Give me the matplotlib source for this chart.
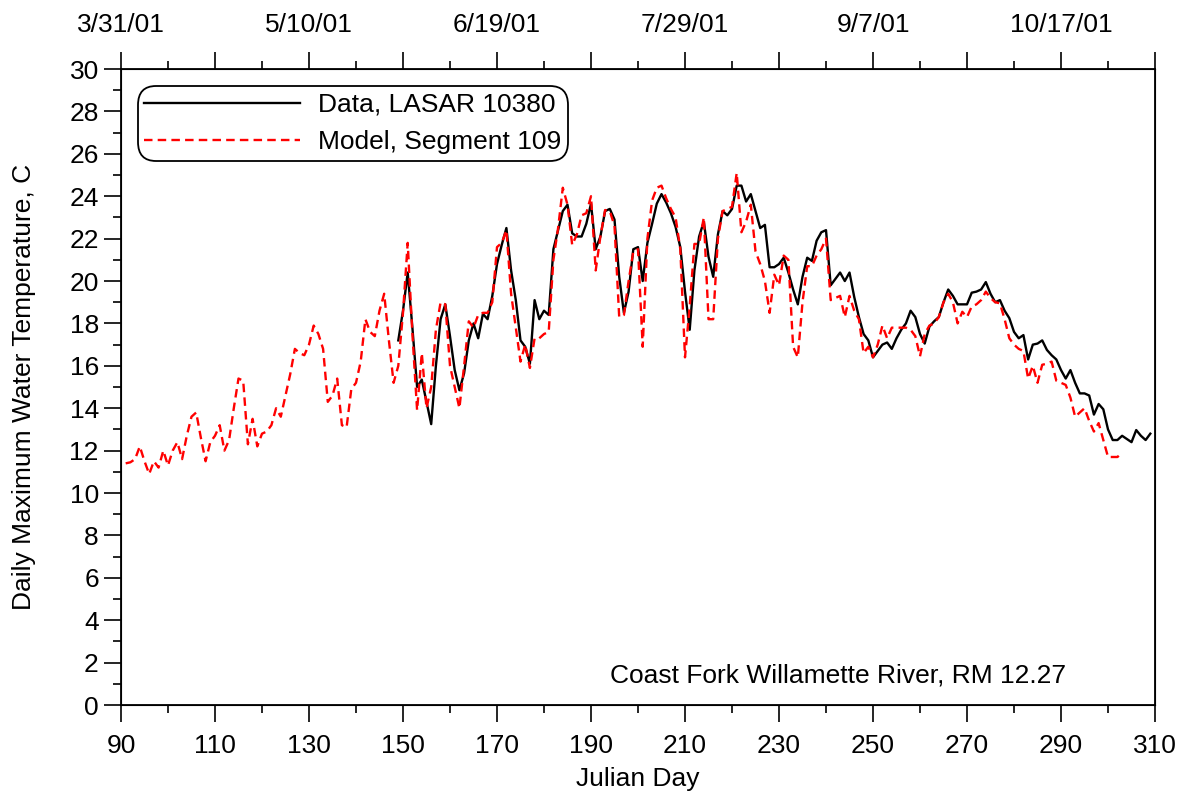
import numpy as np
import matplotlib
matplotlib.use("Agg")
import matplotlib.pyplot as plt
from matplotlib.ticker import MultipleLocator

plt.rcParams['font.family'] = ['Liberation Sans', 'DejaVu Sans']

# observed daily max temperature (LASAR 10380), days 149..309
data_days = np.arange(149, 310)
data_temp = [
    17.2, 18.6, 20.4, 17.8, 15.0, 15.35, 14.3, 13.25, 16.0, 18.2,
    18.9, 17.4, 15.8, 14.85, 15.65, 17.2, 18.0, 17.3, 18.45, 18.2,
    19.3, 20.8, 21.7, 22.5, 20.5, 19.1, 17.2, 16.9, 16.1, 19.1,
    18.2, 18.6, 18.4, 21.5, 22.4, 23.3, 23.6, 22.25, 22.1, 22.1,
    22.7, 23.65, 21.5, 22.1, 23.3, 23.4, 22.9, 20.2, 18.5, 19.5,
    21.5, 21.6, 20.0, 21.8, 22.7, 23.65, 24.1, 23.7, 23.2, 22.55,
    21.6, 19.5, 17.7, 20.5, 22.1, 22.8, 21.15, 20.2, 22.2, 23.3,
    23.1, 23.4, 24.5, 24.5, 23.75, 24.1, 23.3, 22.5, 22.65, 20.65,
    20.65, 20.8, 21.1, 20.4, 19.6, 18.9, 20.2, 21.1, 20.95, 21.9,
    22.3, 22.4, 19.8, 20.1, 20.4, 20.0, 20.4, 19.25, 18.3, 17.5,
    17.2, 16.4, 16.7, 17.0, 17.1, 16.8, 17.3, 17.7, 18.0, 18.6,
    18.3, 17.5, 17.05, 17.85, 18.1, 18.3, 19.0, 19.6, 19.3, 18.9,
    18.9, 18.9, 19.45, 19.5, 19.6, 19.95, 19.4, 19.0, 19.1, 18.6,
    18.25, 17.6, 17.3, 17.45, 16.3, 17.0, 17.05, 17.2, 16.75, 16.5,
    16.3, 15.8, 15.4, 15.8, 15.2, 14.7, 14.7, 14.6, 13.7, 14.2,
    13.95, 13.0, 12.5, 12.5, 12.7, 12.55, 12.4, 12.97, 12.7, 12.5,
    12.8,
]

# model output (Segment 109), days 91..303
model_days = np.arange(91, 304)
model_temp = [
    11.4, 11.45, 11.6, 12.2, 11.5, 10.9, 11.5, 11.2, 12.0, 11.3,
    12.0, 12.4, 11.6, 12.7, 13.6, 13.8, 12.6, 11.5, 12.4, 12.7,
    13.2, 12.0, 12.5, 14.0, 15.4, 15.3, 12.3, 13.5, 12.2, 12.8,
    12.9, 13.2, 14.0, 13.6, 14.6, 15.6, 16.8, 16.6, 16.5, 17.0,
    17.9, 17.5, 16.8, 14.3, 14.6, 15.4, 13.2, 13.1, 14.9, 15.2,
    16.2, 18.2, 17.6, 17.4, 18.6, 19.4, 17.2, 15.2, 16.0, 18.5,
    21.8, 17.5, 13.9, 16.6, 14.0, 15.0, 17.7, 19.0, 18.9, 16.0,
    15.0, 14.0, 16.0, 18.1, 17.8, 18.4, 18.5, 18.5, 19.0, 21.6,
    21.8, 22.4, 19.4, 17.8, 16.2, 17.0, 15.9, 17.3, 17.3, 17.5,
    17.6, 21.0, 22.5, 24.4, 23.6, 21.7, 22.2, 23.1, 23.2, 24.0,
    20.5, 22.1, 23.35, 23.3, 22.6, 18.3, 18.4, 20.0, 21.4, 21.5,
    16.9, 22.0, 23.8, 24.4, 24.5, 23.9, 23.4, 23.0, 21.5, 16.4,
    18.8, 21.75, 21.75, 23.0, 18.2, 18.2, 22.0, 23.3, 23.4, 23.5,
    25.1, 22.3, 22.8, 23.6, 21.4, 20.8, 20.0, 18.5, 20.3, 19.8,
    21.2, 21.0, 16.9, 16.4, 19.0, 20.7, 20.7, 21.2, 21.5, 22.0,
    19.1, 19.2, 19.3, 18.3, 19.3, 18.6, 18.2, 16.6, 16.9, 16.4,
    17.0, 17.9, 17.3, 17.8, 17.8, 17.8, 17.8, 17.7, 17.4, 16.45,
    17.5, 17.9, 18.0, 18.3, 19.0, 19.4, 19.0, 18.0, 18.55, 18.3,
    18.8, 18.9, 19.1, 19.5, 19.2, 19.0, 18.95, 18.2, 17.3, 17.0,
    16.8, 16.7, 15.4, 16.0, 15.2, 16.05, 16.1, 16.2, 15.3, 15.2,
    15.1, 14.5, 13.6, 13.8, 14.0, 13.4, 12.9, 13.3, 12.5, 11.7,
    11.7, 11.7, 11.9,
]

bottom_ticks = list(range(90, 311, 20))
top_tick_labels = ['3/31/01', '', '5/10/01', '', '6/19/01', '', '7/29/01', '',
                   '9/7/01', '', '10/17/01', '']

fs = 19

fig = plt.figure(figsize=(11.85, 7.98), dpi=100)
ax = fig.add_axes([0.1021, 0.1165, 0.8726, 0.797])

ax.plot(data_days, data_temp, color='black', lw=1.7, label='Data, LASAR 10380')
ax.plot(model_days, model_temp, color='red', lw=1.7, dashes=(3.6, 2.2),
        label='Model, Segment 109')

ax.set_xlim(90, 310)
ax.set_ylim(0, 30)
ax.set_xticks(bottom_ticks)
ax.xaxis.set_minor_locator(MultipleLocator(10))
ax.yaxis.set_major_locator(MultipleLocator(2))
ax.yaxis.set_minor_locator(MultipleLocator(1))
ax.tick_params(which='both', direction='out', labelsize=fs, width=1.2)
ax.tick_params(which='major', length=12)
ax.tick_params(which='minor', length=6)
ax.tick_params(axis='x', which='major', pad=9)
ax.tick_params(axis='y', which='major', pad=4)
for s in ax.spines.values():
    s.set_linewidth(1.3)

ax.set_xlabel('Julian Day', fontsize=fs, labelpad=6)
ax.set_ylabel('Daily Maximum Water Temperature, C', fontsize=fs, labelpad=24)

top = ax.twiny()
top.set_xlim(ax.get_xlim())
top.set_xticks(bottom_ticks)
top.set_xticklabels(top_tick_labels)
top.xaxis.set_minor_locator(MultipleLocator(10))
top.tick_params(which='both', direction='out', labelsize=fs, width=1.2)
top.tick_params(which='major', length=12, pad=11)
top.tick_params(which='minor', length=6)

leg = ax.legend(loc='upper left', bbox_to_anchor=(0.016, 0.973), fontsize=fs,
                handlelength=5.9, handletextpad=0.7, borderpad=0.25,
                labelspacing=0.5, borderaxespad=0, fancybox=True,
                framealpha=1, edgecolor='black')
leg.get_frame().set_linewidth(1.3)
leg.get_frame().set_boxstyle('round', pad=0, rounding_size=0.7)

ax.text(0.914, 0.047, 'Coast Fork Willamette River, RM 12.27', transform=ax.transAxes,
        ha='right', va='center', fontsize=fs)

fig.savefig('out.png', dpi=100)
